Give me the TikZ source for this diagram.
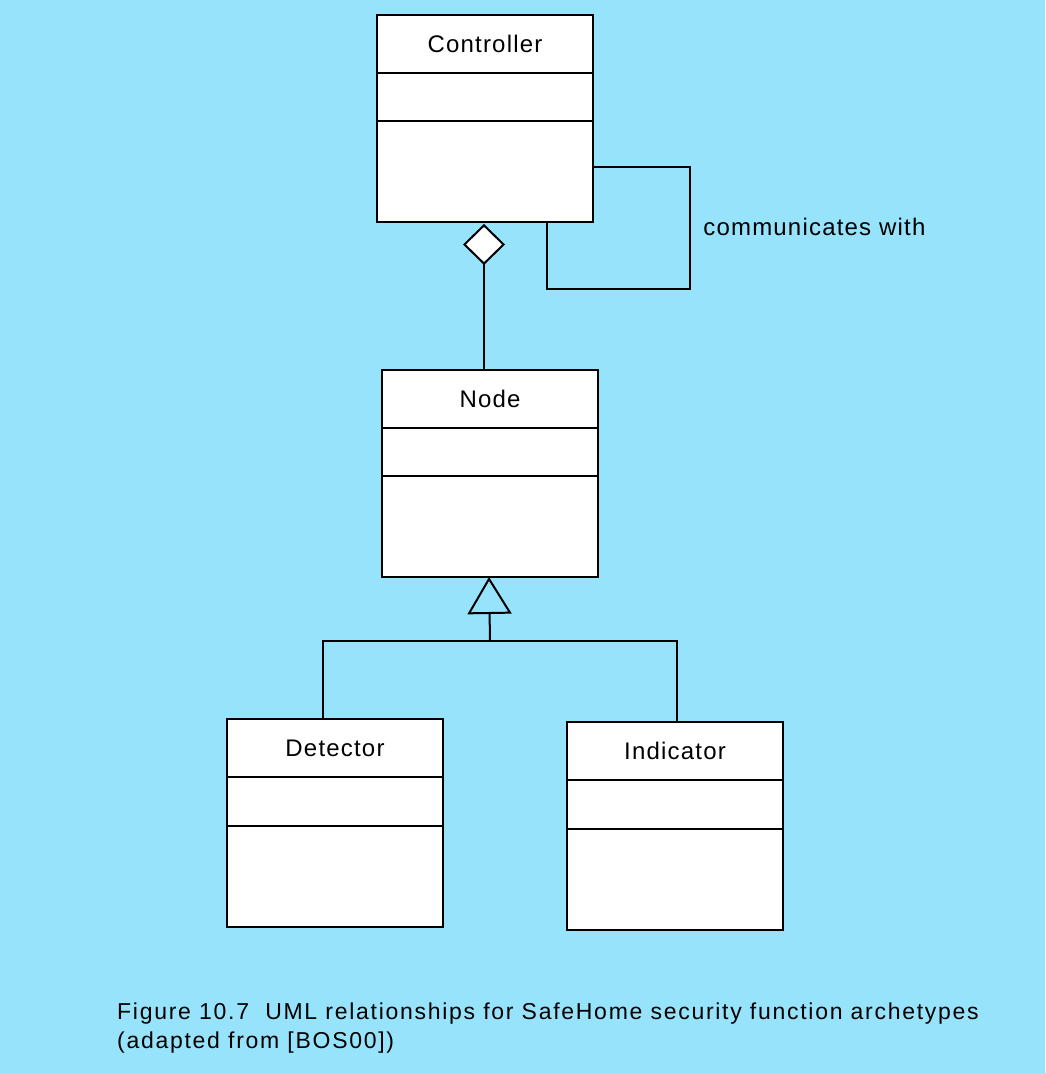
\documentclass[tikz,border=0pt]{standalone}
\usepackage{fontspec}
\setmainfont{Liberation Sans}
\newfontfamily\umlfont[LetterSpace=5]{Liberation Sans}
\newfontfamily\capfont[LetterSpace=7.5]{Liberation Sans}
\usetikzlibrary{arrows.meta,positioning}

\definecolor{bgblue}{RGB}{151,227,252}

\tikzset{
    umlline/.style={line width=2pt, black},
    clsname/.style={umlline, draw, fill=white, minimum width=216pt, minimum height=58pt,
        inner sep=0pt, outer sep=0pt, font=\umlfont\fontsize{24}{28}\selectfont},
    clsattr/.style={umlline, draw, fill=white, minimum width=216pt, minimum height=48pt,
        inner sep=0pt, outer sep=0pt},
    clsops/.style={umlline, draw, fill=white, minimum width=216pt, minimum height=101pt,
        inner sep=0pt, outer sep=0pt},
    aggr/.style={umlline, {Diamond[fill=white,length=41pt,width=42pt,line width=2pt]}-},
    gen/.style={umlline, {Triangle[open,length=37pt,width=44pt,line width=2pt]}-},
}

\begin{document}
\begin{tikzpicture}[x=1pt, y=1pt]
    \fill[bgblue] (0,0) rectangle (1045,1073);
    \useasboundingbox (0,0) rectangle (1045,1073);

    % Controller
    \node[clsname] (ctrl) at (485,1029) {Controller};
    \node[clsattr, below=0pt of ctrl] (ctrlattr) {};
    \node[clsops, below=0pt of ctrlattr] (ctrlops) {};

    % Node
    \node[clsname] (nd) at (490,674) {Node};
    \node[clsattr, below=0pt of nd] (ndattr) {};
    \node[clsops, below=0pt of ndattr] (ndops) {};

    % Detector and Indicator
    \node[clsname] (det) at (335,325) {Detector};
    \node[clsattr, below=0pt of det, minimum height=49pt] (detattr) {};
    \node[clsops, below=0pt of detattr] (detops) {};

    \node[clsname] (ind) at (675,322) {Indicator};
    \node[clsattr, below=0pt of ind, minimum height=49pt] (indattr) {};
    \node[clsops, below=0pt of indattr] (indops) {};

    % self association
    \draw[umlline] ([yshift=4pt]ctrlops.east) -| ++(97,-122)
        node[pos=0.75, right=9pt, yshift=2pt, font=\umlfont\fontsize{24}{28}\selectfont] (comm) {communicates with}
        -| ([xshift=62pt]ctrlops.south);

    % aggregation
    \draw[aggr] ([xshift=-1pt,yshift=-2pt]ctrlops.south) -- ([xshift=-1pt]ctrlops.south |- nd.north);

    % generalization
    \coordinate (jn) at (490,432);
    \draw[gen] ([xshift=-1pt]ndops.south) -- (jn);
    \draw[umlline] ([xshift=-12pt]det.north) |- (jn) -| ([xshift=2pt]ind.north);

    \node[anchor=west, align=left, inner sep=0pt, font=\capfont\fontsize{23}{29}\selectfont] (caption) at (117,45)
        {Figure 10.7\ \ UML relationships for SafeHome security function archetypes\\(adapted from [BOS00])};
\end{tikzpicture}
\end{document}
